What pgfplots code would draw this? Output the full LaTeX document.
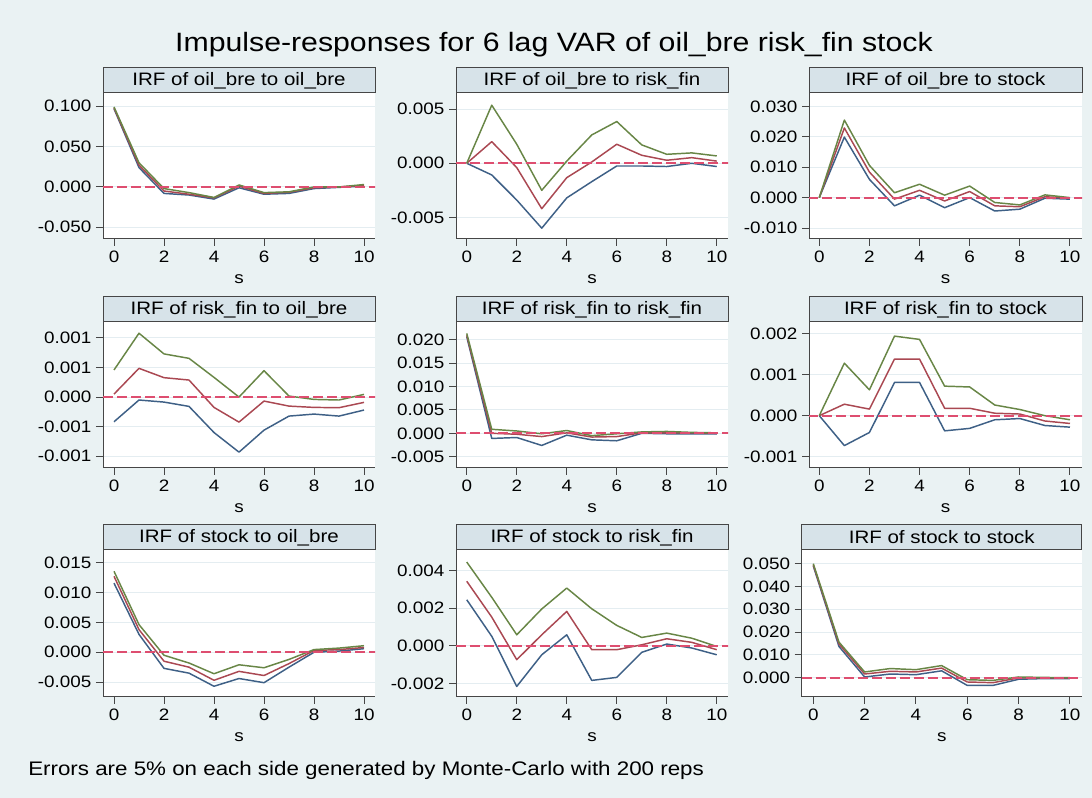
\documentclass[border=0pt]{standalone}
\usepackage{pgfplots}
\usepackage{pgfplotstable}
\pgfplotsset{compat=1.18}
\usepackage{fontspec}
\setmainfont[FakeStretch=1.14]{Liberation Sans}
\definecolor{bg}{RGB}{234,242,243}
\definecolor{boxbg}{RGB}{215,227,233}
\definecolor{lblue}{RGB}{62,96,134}
\definecolor{lred}{RGB}{170,72,82}
\definecolor{lgreen}{RGB}{104,134,70}
\definecolor{zline}{RGB}{222,78,112}
\definecolor{axgray}{RGB}{70,70,70}
\definecolor{gridc}{RGB}{228,237,241}

% columns: s lo mid hi
\pgfplotstableread{
s lo mid hi
0 0.097 0.098 0.0992
1 0.024 0.027 0.030
2 -0.008 -0.005 -0.002
3 -0.010 -0.009 -0.007
4 -0.015 -0.0135 -0.013
5 -0.001 0.001 0.0025
6 -0.009 -0.008 -0.007
7 -0.008 -0.0065 -0.006
8 -0.002 -0.001 0
9 -0.0005 0 0
10 0.001 0.002 0.003
}\tA
\pgfplotstableread{
s lo mid hi
0 0 0 0
1 -0.00108 0.002 0.00537
2 -0.0034 -0.0004 0.00176
3 -0.006 -0.0042 -0.0025
4 -0.0032 -0.00133 0.0002
5 -0.0017 0.00012 0.00262
6 -0.00025 0.00176 0.00386
7 -0.00025 0.00074 0.0017
8 -0.0003 0.00028 0.00083
9 0 0.00052 0.00096
10 -0.0003 0.0002 0.00068
}\tB
\pgfplotstableread{
s lo mid hi
0 0 0 0
1 0.0199 0.0229 0.0255
2 0.006 0.0084 0.0106
3 -0.0027 -0.0005 0.0016
4 0.0008 0.0024 0.0044
5 -0.0033 -0.0011 0.0008
6 0 0.002 0.0038
7 -0.0044 -0.0027 -0.0016
8 -0.0038 -0.003 -0.0024
9 -0.0002 0.0003 0.0009
10 -0.0005 -0.0002 0
}\tC
\pgfplotstableread{
s lo mid hi
0 -0.000418 0.00005 0.000458
1 -0.00005 0.000486 0.00108
2 -0.000085 0.000328 0.00073
3 -0.000158 0.000288 0.000655
4 -0.0006 -0.000175 0.000333
5 -0.000932 -0.000424 0
6 -0.00056 -0.000068 0.000446
7 -0.000322 -0.000153 0.000017
8 -0.000288 -0.000175 -0.00004
9 -0.000322 -0.00018 -0.00005
10 -0.00022 -0.00009 0.000045
}\tD
\pgfplotstableread{
s lo mid hi
0 0.0207 0.021 0.0214
1 -0.0011 0 0.00086
2 -0.0009 -0.0002 0.0005
3 -0.0026 -0.0007 -0.0001
4 -0.0004 0.0001 0.0006
5 -0.0014 -0.0008 -0.0005
6 -0.0016 -0.0007 -0.0001
7 0 0.0001 0.0003
8 -0.0001 0.0001 0.0004
9 -0.0001 0.0001 0.0002
10 -0.0001 0 0.0001
}\tE
\pgfplotstableread{
s lo mid hi
0 0 0 0
1 -0.00073 0.00028 0.00128
2 -0.00041 0.00016 0.00063
3 0.00081 0.00138 0.00194
4 0.00081 0.00138 0.00186
5 -0.00037 0.00018 0.00072
6 -0.00031 0.00018 0.0007
7 -0.0001 0.00006 0.00026
8 -0.00007 0.00004 0.00015
9 -0.00024 -0.00013 0
10 -0.00028 -0.00019 -0.0001
}\tF
\pgfplotstableread{
s lo mid hi
0 0.0116 0.01274 0.01358
1 0.003 0.0038 0.00464
2 -0.0027 -0.0015 -0.0005
3 -0.0035 -0.0025 -0.0018
4 -0.0057 -0.0047 -0.0036
5 -0.0044 -0.0032 -0.0021
6 -0.0051 -0.0039 -0.0026
7 -0.0025 -0.0019 -0.0012
8 0 0.0003 0.00045
9 0.0002 0.00045 0.0007
10 0.0006 0.0008 0.0011
}\tG
\pgfplotstableread{
s lo mid hi
0 0.00244 0.00342 0.00444
1 0.0005 0.00152 0.00257
2 -0.00216 -0.00074 0.00058
3 -0.00048 0.00058 0.00195
4 0.00058 0.00182 0.00306
5 -0.00184 -0.00021 0.00196
6 -0.00168 -0.00021 0.00108
7 -0.00035 0.00005 0.00044
8 0.00009 0.00037 0.00067
9 -0.00012 0.00018 0.0004
10 -0.00048 -0.00021 -0.00004
}\tH
\pgfplotstableread{
s lo mid hi
0 0.049 0.0495 0.05
1 0.0137 0.0148 0.0156
2 0.0003 0.0016 0.0025
3 0.0016 0.0028 0.004
4 0.0013 0.0025 0.0035
5 0.003 0.0042 0.0053
6 -0.0034 -0.0019 -0.0009
7 -0.0034 -0.0022 -0.0012
8 -0.0007 -0.0001 0.0003
9 -0.0004 -0.0001 0.0001
10 -0.0004 -0.0001 0
}\tI

\pgfplotsset{
  irf/.style={
    scale only axis, width=204pt, height=109.5pt,
    axis x line*=bottom, axis y line*=left,
    axis line style={axgray, line width=0.75pt},
    major tick style={axgray, line width=0.75pt},
    tick align=outside, major tick length=5.25pt,
    axis background/.style={fill=white},
    xtick={0,2,4,6,8,10}, xticklabels={0,2,4,6,8,10},
    ymajorgrids, grid style={gridc, line width=0.75pt},
    scaled ticks=false,
    tick label style={font=\fontsize{12.4}{14}\selectfont, black},
    xlabel={s},
    xlabel style={font=\fontsize{12.4}{14}\selectfont, at={(axis description cs:0.5,0)}, anchor=center, yshift=-30pt},
    every axis plot/.append style={line width=1.1pt, line join=round},
  },
}
\tikzset{
  ttl/.style={draw=axgray, fill=boxbg, line width=0.75pt, anchor=south west,
    minimum height=18.75pt, inner sep=0pt, outer sep=0pt,
    font=\fontsize{13.5}{15}\selectfont},
}
\newcommand{\irflines}[1]{%
  \addplot[lblue] table[x=s,y=lo]{#1};
  \addplot[lred] table[x=s,y=mid]{#1};
  \addplot[lgreen] table[x=s,y=hi]{#1};
  \addplot[zline, line width=1.5pt, dash pattern=on 7.5pt off 3pt] coordinates {(-1,0) (11,0)};
}

\begin{document}
\begin{tikzpicture}
\fill[bg] (0,0) rectangle (819pt,598.5pt);
\path[use as bounding box] (0,0) rectangle (819pt,598.5pt);

% Row 1
\begin{axis}[irf, name=p1, at={(77.25pt,419.25pt)}, anchor=south west,
  xmin=-0.44, xmax=10.44, ymin=-0.0645, ymax=0.1165,
  ytick={-0.05,0,0.05,0.1}, yticklabels={-0.050,0.000,0.050,0.100}]
\irflines{\tA}
\end{axis}
\begin{axis}[irf, name=p2, at={(342pt,419.25pt)}, anchor=south west,
  xmin=-0.43, xmax=10.45, ymin=-0.0070, ymax=0.0065,
  ytick={-0.005,0,0.005}, yticklabels={-0.005,0.000,0.005}]
\irflines{\tB}
\end{axis}
\begin{axis}[irf, name=p3, at={(606.75pt,419.25pt)}, anchor=south west, width=204.75pt,
  xmin=-0.41, xmax=10.48, ymin=-0.0136, ymax=0.0344,
  ytick={-0.01,0,0.01,0.02,0.03}, yticklabels={-0.010,0.000,0.010,0.020,0.030}]
\irflines{\tC}
\end{axis}

% Row 2
\begin{axis}[irf, name=p4, at={(77.25pt,247.5pt)}, anchor=south west,
  xmin=-0.44, xmax=10.44, ymin=-0.0012, ymax=0.00127,
  ytick={-0.001,-0.0005,0,0.0005,0.001}, yticklabels={-0.001,-0.001,0.000,0.001,0.001}]
\irflines{\tD}
\end{axis}
\begin{axis}[irf, name=p5, at={(342pt,247.5pt)}, anchor=south west,
  xmin=-0.43, xmax=10.45, ymin=-0.00743, ymax=0.02385,
  ytick={-0.005,0,0.005,0.01,0.015,0.02}, yticklabels={-0.005,0.000,0.005,0.010,0.015,0.020}]
\irflines{\tE}
\end{axis}
\begin{axis}[irf, name=p6, at={(606.75pt,247.5pt)}, anchor=south west, width=204.75pt,
  xmin=-0.41, xmax=10.48, ymin=-0.001276, ymax=0.002285,
  ytick={-0.001,0,0.001,0.002}, yticklabels={-0.001,0.000,0.001,0.002}]
\irflines{\tF}
\end{axis}

% Row 3
\begin{axis}[irf, name=p7, at={(77.25pt,75.75pt)}, anchor=south west, height=110.25pt,
  xmin=-0.44, xmax=10.44, ymin=-0.0075, ymax=0.01715,
  ytick={-0.005,0,0.005,0.01,0.015}, yticklabels={-0.005,0.000,0.005,0.010,0.015}]
\irflines{\tG}
\end{axis}
\begin{axis}[irf, name=p8, at={(342pt,75.75pt)}, anchor=south west, height=110.25pt,
  xmin=-0.43, xmax=10.45, ymin=-0.00272, ymax=0.00508,
  ytick={-0.002,0,0.002,0.004}, yticklabels={-0.002,0.000,0.002,0.004}]
\irflines{\tH}
\end{axis}
\begin{axis}[irf, name=p9, at={(601.3pt,75.75pt)}, anchor=south west, height=110.25pt, width=210pt,
  xmin=-0.45, xmax=10.46, ymin=-0.00848, ymax=0.056,
  ytick={0,0.01,0.02,0.03,0.04,0.05}, yticklabels={0.000,0.010,0.020,0.030,0.040,0.050}]
\irflines{\tI}
\end{axis}

% panel titles
\node[ttl, minimum width=204pt] at (p1.north west) {IRF of oil\_bre to oil\_bre};
\node[ttl, minimum width=204pt] at (p2.north west) {IRF of oil\_bre to risk\_fin};
\node[ttl, minimum width=204.75pt] at (p3.north west) {IRF of oil\_bre to stock};
\node[ttl, minimum width=204pt] at (p4.north west) {IRF of risk\_fin to oil\_bre};
\node[ttl, minimum width=204pt] at (p5.north west) {IRF of risk\_fin to risk\_fin};
\node[ttl, minimum width=204.75pt] at (p6.north west) {IRF of risk\_fin to stock};
\node[ttl, minimum width=204pt] at (p7.north west) {IRF of stock to oil\_bre};
\node[ttl, minimum width=204pt] at (p8.north west) {IRF of stock to risk\_fin};
\node[ttl, minimum width=210pt] at (p9.north west) {IRF of stock to stock};

% main title and note
\node[font=\fontsize{19.9}{22}\selectfont, anchor=center] at (415.5pt,564.75pt) {Impulse-responses for 6 lag VAR of oil\_bre risk\_fin stock};
\node[font=\fontsize{14.7}{16}\selectfont, anchor=west, inner sep=0pt] at (21pt,21pt) {Errors are 5\% on each side generated by Monte-Carlo with 200 reps};
\end{tikzpicture}
\end{document}
